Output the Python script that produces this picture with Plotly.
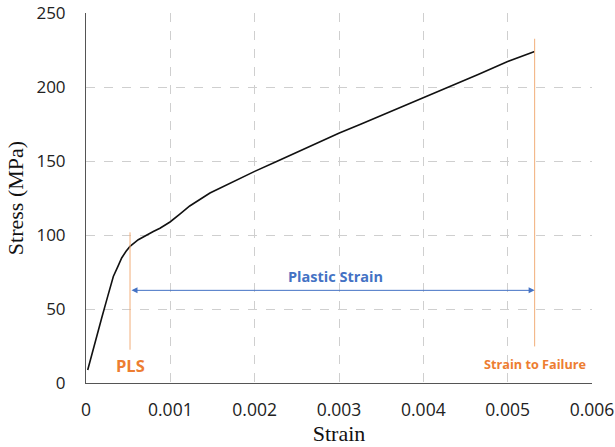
import plotly.graph_objects as go

# Stress-strain curve
strain = [0.00002, 0.00008, 0.00014, 0.000186, 0.00025, 0.000324, 0.00038, 0.000423,
          0.000475, 0.000522, 0.00062, 0.0007, 0.000798, 0.000877, 0.000996, 0.00112,
          0.00123, 0.00147, 0.00171, 0.002, 0.00226, 0.00254, 0.00266, 0.003004,
          0.003263, 0.003526, 0.003723, 0.004, 0.004316, 0.00465, 0.005, 0.00516, 0.00532]
stress = [8.8, 22, 34, 43.9, 57, 72, 79, 84.5,
          89, 92.3, 96.8, 99.5, 102.4, 104.6, 108.8, 114.5,
          119.6, 128.4, 135.1, 143.0, 149.7, 157.0, 159.9, 168.9,
          175.0, 181.3, 185.8, 192.6, 200.0, 208.5, 217.3, 220.8, 224.0]

pls_strain = 0.000522
failure_strain = 0.00532
pls_line_stress = [22.5, 101.8]
failure_line_stress = [24.7, 232.6]
arrow_stress = 62.6

x_ticks = [0, 0.001, 0.002, 0.003, 0.004, 0.005, 0.006]
x_tick_labels = ["0", "0.001", "0.002", "0.003", "0.004", "0.005", "0.006"]
y_ticks = [0, 50, 100, 150, 200, 250]

ORANGE_LINE = "#F2AE7A"
ORANGE_TEXT = "#ED7D31"
BLUE = "#4472C4"

fig = go.Figure()
fig.add_trace(go.Scatter(x=strain, y=stress, mode="lines",
                         line=dict(color="#111111", width=1.6), showlegend=False))
fig.add_trace(go.Scatter(x=[pls_strain, pls_strain], y=pls_line_stress, mode="lines",
                         line=dict(color=ORANGE_LINE, width=1), showlegend=False))
fig.add_trace(go.Scatter(x=[failure_strain, failure_strain], y=failure_line_stress, mode="lines",
                         line=dict(color=ORANGE_LINE, width=1), showlegend=False))

fig.add_annotation(x=failure_strain, y=arrow_stress, ax=pls_strain, ay=arrow_stress,
                   xref="x", yref="y", axref="x", ayref="y", text="",
                   showarrow=True, arrowhead=2, arrowside="end+start", arrowsize=1.2,
                   arrowwidth=1, arrowcolor=BLUE)
fig.add_annotation(x=0.00296, y=72, xref="x", yref="y", text="<b>Plastic Strain</b>",
                   showarrow=False, font=dict(family="Open Sans", size=14.5, color=BLUE))
fig.add_annotation(x=pls_strain, y=12, xref="x", yref="y", text="<b>PLS</b>",
                   showarrow=False, font=dict(family="Open Sans", size=16.5, color=ORANGE_TEXT))
fig.add_annotation(x=0.00595, y=13, xref="x", yref="y", text="<b>Strain to Failure</b>",
                   xanchor="right", showarrow=False,
                   font=dict(family="Open Sans", size=12.7, color=ORANGE_TEXT))

fig.update_layout(
    width=615, height=447,
    margin=dict(l=86, r=23, t=13, b=64, autoexpand=False),
    paper_bgcolor="white", plot_bgcolor="white",
    font=dict(family="Open Sans", size=16, color="#222222"),
)
fig.update_xaxes(range=[0, 0.006], tickvals=x_ticks, ticktext=x_tick_labels,
                 automargin=False,
                 showgrid=True, gridcolor="#CFCFCF", griddash="dash", gridwidth=1,
                 showline=True, linecolor="#555555", linewidth=1, zeroline=False,
                 ticks="outside", ticklen=11, tickcolor="rgba(0,0,0,0)",
                 tickfont=dict(size=17.5, color="#222222"),
                 title=dict(text="Strain", standoff=0,
                            font=dict(family="Liberation Serif", size=22, color="#111111")))
fig.update_yaxes(range=[0, 250], tickvals=y_ticks,
                 automargin=False,
                 showgrid=True, gridcolor="#CFCFCF", griddash="dash", gridwidth=1,
                 showline=True, linecolor="#555555", linewidth=1, zeroline=False,
                 ticks="outside", ticklen=16, tickcolor="rgba(0,0,0,0)",
                 tickfont=dict(size=17, color="#222222"),
                 title=dict(text="Stress (MPa)", standoff=6,
                            font=dict(family="Liberation Serif", size=22, color="#111111")))

fig.write_html("out.html", config={"displayModeBar": False},
               post_script="document.body.style.margin='0';document.body.style.overflow='hidden';")
